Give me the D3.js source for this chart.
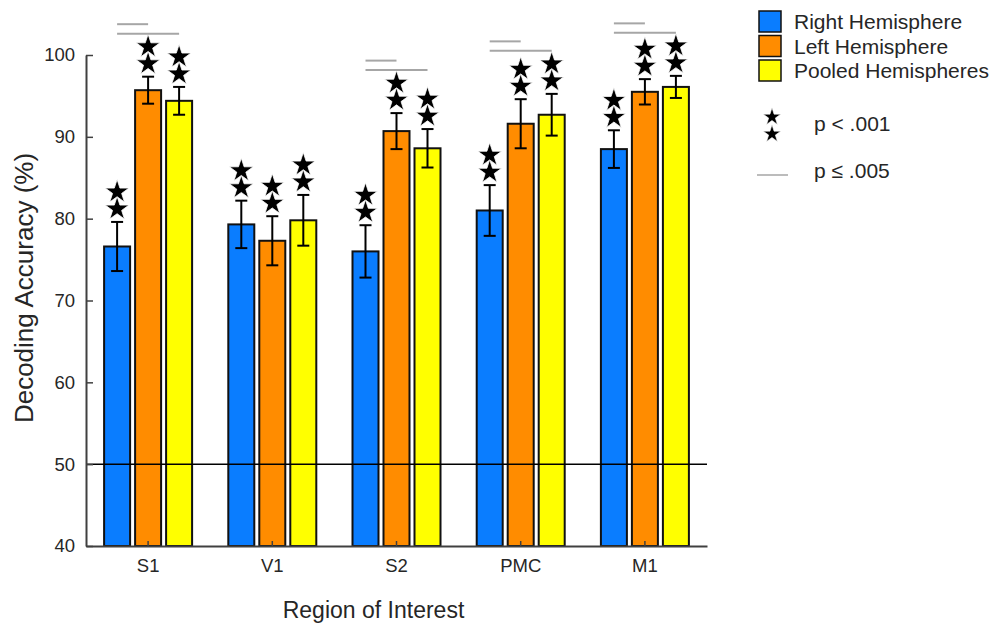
<!DOCTYPE html>
<html>
<head>
<meta charset="utf-8">
<script src="https://cdn.jsdelivr.net/npm/d3@7"></script>
<style>
  body { margin: 0; background: #fff; }
  text { font-family: "Liberation Sans", Arial, sans-serif; fill: #262626; }
</style>
</head>
<body>
<div id="chart"></div>
<script>
// Data
const regions = ["S1", "V1", "S2", "PMC", "M1"];
const groups = ["Right Hemisphere", "Left Hemisphere", "Pooled Hemispheres"];
const colors = ["#0a7dff", "#ff8c00", "#ffff00"];

const rightMean  = [76.6, 79.3, 76.0, 81.0, 88.5];
const leftMean   = [95.7, 77.3, 90.7, 91.6, 95.5];
const pooledMean = [94.4, 79.8, 88.6, 92.7, 96.1];

const rightErr  = [3.0, 2.9, 3.2, 3.1, 2.3];
const leftErr   = [1.65, 3.0, 2.2, 3.0, 1.55];
const pooledErr = [1.7, 3.1, 2.35, 2.55, 1.35];

// p < .001 stars: every bar
// p <= .005 comparisons: [region, group from, group to]
const sigPairs = [
  ["S1", 0, 1], ["S1", 0, 2],
  ["S2", 0, 1], ["S2", 0, 2],
  ["PMC", 0, 1], ["PMC", 0, 2],
  ["M1", 0, 1], ["M1", 0, 2]
];

const yTicks = [40, 50, 60, 70, 80, 90, 100];
const chanceLevel = 50;

function pageLoad() {
  const margin = { top: 55, right: 292, bottom: 84, left: 86 };
  const width = 999 - margin.left - margin.right;
  const height = 630 - margin.top - margin.bottom;

  const svg = d3.select("#chart")
    .append("svg")
      .attr("width", 999)
      .attr("height", 630);

  const g = svg.append("g")
    .attr("transform", "translate(" + margin.left + "," + margin.top + ")");

  const means = [rightMean, leftMean, pooledMean];
  const errs = [rightErr, leftErr, pooledErr];

  const bars = [];
  regions.forEach(function (r, i) {
    groups.forEach(function (gr, j) {
      bars.push({ region: r, group: j, value: means[j][i], err: errs[j][i] });
    });
  });

  // Scales
  const x = d3.scaleBand()
    .domain(regions)
    .range([0, width])
    .padding(0);

  const xSub = d3.scalePoint()
    .domain([0, 1, 2])
    .range([-31, 31]);

  const y = d3.scaleLinear()
    .domain([40, 100])
    .range([height, 0]);

  const barW = 26;
  const cx = function (d) { return x(d.region) + x.bandwidth() / 2 + xSub(d.group); };

  // Bars
  g.selectAll(".bar")
    .data(bars)
    .enter().append("rect")
      .attr("class", "bar")
      .attr("x", function (d) { return cx(d) - barW / 2; })
      .attr("y", function (d) { return y(d.value); })
      .attr("width", barW)
      .attr("height", function (d) { return y(40) - y(d.value); })
      .attr("fill", function (d) { return colors[d.group]; })
      .attr("stroke", "#111")
      .attr("stroke-width", 2);

  // Chance line
  g.append("line")
    .attr("x1", 0)
    .attr("x2", width)
    .attr("y1", y(chanceLevel))
    .attr("y2", y(chanceLevel))
    .attr("stroke", "#000")
    .attr("stroke-width", 1.5);

  // Error bars
  const eb = g.selectAll(".err")
    .data(bars)
    .enter().append("g")
      .attr("class", "err")
      .attr("stroke", "#000")
      .attr("stroke-width", 2);
  eb.append("line")
    .attr("x1", cx).attr("x2", cx)
    .attr("y1", function (d) { return y(d.value + d.err); })
    .attr("y2", function (d) { return y(d.value - d.err); });
  eb.append("line")
    .attr("x1", function (d) { return cx(d) - 6; })
    .attr("x2", function (d) { return cx(d) + 6; })
    .attr("y1", function (d) { return y(d.value + d.err); })
    .attr("y2", function (d) { return y(d.value + d.err); });
  eb.append("line")
    .attr("x1", function (d) { return cx(d) - 6; })
    .attr("x2", function (d) { return cx(d) + 6; })
    .attr("y1", function (d) { return y(d.value - d.err); })
    .attr("y2", function (d) { return y(d.value - d.err); });

  // Stars
  const star = d3.symbol().type(d3.symbolStar).size(175);
  bars.forEach(function (d) {
    [13, 30].forEach(function (off) {
      g.append("path")
        .attr("d", star())
        .attr("transform", "translate(" + cx(d) + "," + (y(d.value + d.err) - off) + ")")
        .attr("fill", "#000")
        .attr("stroke", "#fff")
        .attr("stroke-width", 0.8);
    });
  });

  // Significance lines
  sigPairs.forEach(function (p) {
    const inRegion = bars.filter(function (b) { return b.region === p[0]; });
    const topPx = d3.min(inRegion, function (b) { return y(b.value + b.err); });
    const long = p[2] - p[1] > 1;
    const ly = topPx - (long ? 43 : 52.5);
    const a = inRegion[p[1]], b = inRegion[p[2]];
    g.append("line")
      .attr("x1", cx(a))
      .attr("x2", cx(b))
      .attr("y1", ly)
      .attr("y2", ly)
      .attr("stroke", "#a6a6a6")
      .attr("stroke-width", 2);
  });

  // Axes
  const yAxis = g.append("g")
    .call(d3.axisLeft(y).tickValues(yTicks).tickSizeInner(-7).tickSizeOuter(0).tickPadding(11));
  const xAxis = g.append("g")
    .attr("transform", "translate(0," + height + ")")
    .call(d3.axisBottom(x).tickSizeInner(-5).tickSizeOuter(0).tickPadding(13));

  [yAxis, xAxis].forEach(function (ax) {
    ax.select(".domain").attr("stroke", "#404040").attr("stroke-width", 2);
    ax.selectAll(".tick line").attr("stroke", "#404040").attr("stroke-width", 1.5);
    ax.selectAll(".tick text")
      .style("font-size", "18.5px")
      .style("font-family", "'Liberation Sans', Arial, sans-serif")
      .attr("fill", "#262626");
  });

  // Axis titles
  svg.append("text")
    .attr("transform", "translate(33,288) rotate(-90)")
    .attr("text-anchor", "middle")
    .style("font-size", "26px")
    .text("Decoding Accuracy (%)");

  svg.append("text")
    .attr("x", margin.left + width / 2 - 23)
    .attr("y", 618)
    .attr("text-anchor", "middle")
    .style("font-size", "23px")
    .text("Region of Interest");

  // Legend
  const legend = svg.append("g").attr("transform", "translate(759,11)");
  groups.forEach(function (name, j) {
    legend.append("rect")
      .attr("x", 0)
      .attr("y", j * 24.5)
      .attr("width", 22)
      .attr("height", 21)
      .attr("fill", colors[j])
      .attr("stroke", "#111")
      .attr("stroke-width", 1.5);
    legend.append("text")
      .attr("x", 35)
      .attr("y", j * 24.5 + 18)
      .style("font-size", "21px")
      .text(name);
  });

  const smallStar = d3.symbol().type(d3.symbolStar).size(95);
  [117, 134].forEach(function (sy) {
    svg.append("path")
      .attr("d", smallStar())
      .attr("transform", "translate(772," + sy + ")")
      .attr("fill", "#000")
      .attr("stroke", "#fff")
      .attr("stroke-width", 0.6);
  });
  svg.append("text")
    .attr("x", 814)
    .attr("y", 131)
    .style("font-size", "21px")
    .text("p < .001");

  svg.append("line")
    .attr("x1", 757)
    .attr("x2", 788)
    .attr("y1", 175)
    .attr("y2", 175)
    .attr("stroke", "#a6a6a6")
    .attr("stroke-width", 1.5);
  svg.append("text")
    .attr("x", 814)
    .attr("y", 178)
    .style("font-size", "21px")
    .text("p \u2264 .005");
}

window.addEventListener("load", pageLoad);
</script>
</body>
</html>
